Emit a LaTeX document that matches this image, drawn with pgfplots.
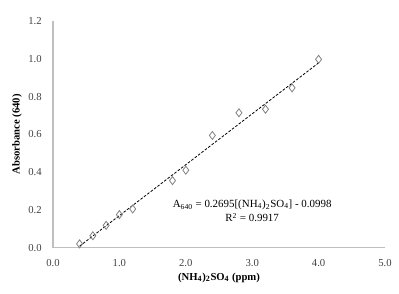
\documentclass[border=0pt]{standalone}
\usepackage{pgfplots}
\pgfplotsset{compat=1.18}
\usepackage{fontspec}
\setmainfont{Liberation Serif}
\definecolor{axgray}{RGB}{191,191,191}
\definecolor{mkgray}{RGB}{128,128,128}
\begin{document}
\begin{tikzpicture}
\useasboundingbox (-39.75pt,-34.5pt) rectangle (259.5pt,185.75pt);
\begin{axis}[
  at={(0,0)}, anchor=south west,
  scale only axis, width=249pt, height=170pt,
  xmin=0, xmax=5, ymin=0, ymax=1.2,
  xtick={0,1,...,5}, ytick={0,0.2,...,1.2},
  xticklabel style={/pgf/number format/.cd, fixed, fixed zerofill, precision=1},
  yticklabel style={/pgf/number format/.cd, fixed, fixed zerofill, precision=1},
  /pgf/number format/assume math mode=true,
  tick label style={font=\fontsize{8}{9}\selectfont, text=black!75},
  major tick length=0pt,
  axis x line*=bottom, axis y line*=left,
  axis line style={axgray, line width=0.8pt, -},
  xticklabel shift=5pt, yticklabel shift=5pt,
  xlabel={\textbf{(NH\textsubscript{4})\textsubscript{2}SO\textsubscript{4} (ppm)}},
  ylabel={\textbf{Absorbance (640)}},
  label style={font=\fontsize{8}{9}\selectfont},
  xlabel style={yshift=2pt},
  ylabel style={yshift=-2pt},
  clip=false,
]
\addplot[only marks, mark=diamond, mark size=3pt, mark options={draw=mkgray, fill=white, line width=0.6pt}] coordinates {
(0.4,0.020) (0.6,0.063) (0.8,0.118) (1.0,0.175) (1.2,0.205)
(1.8,0.355) (2.0,0.410) (2.4,0.594) (2.8,0.714) (3.2,0.733)
(3.6,0.846) (4.0,0.997)
};
\addplot[black, dashed, dash pattern=on 2pt off 1.2pt, line width=0.6pt] coordinates {(0.4,0.0080) (4.0,0.9782)};
\node[font=\fontsize{8.2}{9}\selectfont, anchor=center] at (axis cs:3.0,0.226) {A\textsubscript{640} = 0.2695[(NH\textsubscript{4})\textsubscript{2}SO\textsubscript{4}] - 0.0998};
\node[font=\fontsize{8.2}{9}\selectfont, anchor=center] at (axis cs:3.0,0.160) {R\textsuperscript{2} = 0.9917};
\end{axis}
\end{tikzpicture}
\end{document}
